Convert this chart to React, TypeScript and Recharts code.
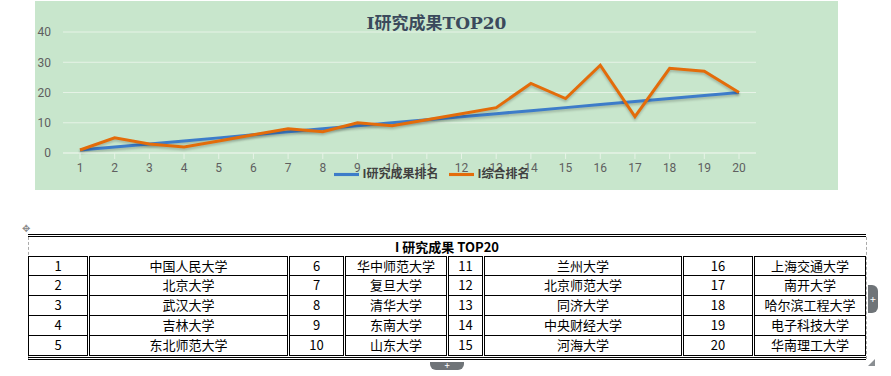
import React from "react";
import { LineChart, Line, XAxis, YAxis, CartesianGrid, Legend } from "recharts";

const ranks = ["1", "2", "3", "4", "5", "6", "7", "8", "9", "10", "11", "12", "13", "14", "15", "16", "17", "18", "19", "20"];
const researchRank = [1, 2, 3, 4, 5, 6, 7, 8, 9, 10, 11, 12, 13, 14, 15, 16, 17, 18, 19, 20];
const overallRank = [1, 5, 3, 2, 4, 6, 8, 7, 10, 9, 11, 13, 15, 23, 18, 29, 12, 28, 27, 20];
const universities = [
  "中国人民大学", "北京大学", "武汉大学", "吉林大学", "东北师范大学",
  "华中师范大学", "复旦大学", "清华大学", "东南大学", "山东大学",
  "兰州大学", "北京师范大学", "同济大学", "中央财经大学", "河海大学",
  "上海交通大学", "南开大学", "哈尔滨工程大学", "电子科技大学", "华南理工大学",
];

const data = ranks.map((r, i) => ({
  name: r,
  research: researchRank[i],
  overall: overallRank[i],
}));

// table column boundaries (number col, name col) x 4 groups
const cols = [
  [28, 60], [89, 199],
  [289, 55], [345, 102],
  [448, 35], [484, 198],
  [683, 70], [754, 112],
];
const rowTops = [256, 276, 296, 316, 336];
const rowH = 20;

const cjk = '"Noto Sans CJK SC", "Noto Sans", sans-serif';

export default function App() {
  const cells: React.ReactNode[] = [];
  for (let g = 0; g < 4; g++) {
    for (let r = 0; r < 5; r++) {
      const idx = g * 5 + r;
      const [nx, nw] = cols[g * 2];
      const [tx, tw] = cols[g * 2 + 1];
      const top = rowTops[r];
      const base: React.CSSProperties = {
        position: "absolute",
        top,
        height: rowH,
        boxSizing: "border-box",
        border: "1px solid #000",
        borderTop: r === 0 ? "1px solid #000" : "none",
        textAlign: "center",
        lineHeight: "18px",
        fontSize: 13,
        color: "#000",
        fontFamily: cjk,
      };
      cells.push(
        <div key={"n" + idx} style={{ ...base, left: nx, width: nw }}>
          {ranks[idx]}
        </div>
      );
      cells.push(
        <div key={"t" + idx} style={{ ...base, left: tx, width: tw }}>
          {universities[idx]}
        </div>
      );
    }
  }

  return (
    <div style={{ position: "absolute", left: 0, top: 0, width: 891, height: 376, background: "#fff", overflow: "hidden" }}>
      <div style={{ position: "absolute", left: 35, top: 1, width: 803, height: 189, background: "#c8e6cc" }}>
        <LineChart
          width={803}
          height={189}
          data={data}
          margin={{ top: 31, right: 82, left: 0, bottom: 0 }}
        >
          <CartesianGrid vertical={false} stroke="#e6f3e6" strokeWidth={1} />
          <XAxis
            dataKey="name"
            height={37}
            padding={{ left: 17, right: 17 }}
            stroke="#e6f3e6"
            tickLine={{ stroke: "#e6f3e6" }}
            tick={{ fill: "#5f5f5f", fontSize: 12, fontFamily: "Roboto, sans-serif" }}
            tickMargin={4}
          />
          <YAxis
            width={28}
            domain={[0, 40]}
            ticks={[0, 10, 20, 30, 40]}
            axisLine={false}
            tickLine={false}
            tick={{ fill: "#5f5f5f", fontSize: 12, fontFamily: "Roboto, sans-serif" }}
            tickMargin={6}
          />
          <Legend
            verticalAlign="middle"
            align="center"
            layout="horizontal"
            iconType="plainline"
            iconSize={25}
            wrapperStyle={{ top: 161, left: 41, fontSize: 12, fontWeight: "bold", fontFamily: cjk }}
            formatter={(v: string) => <span style={{ color: "#404040" }}>{v}</span>}
          />
          <Line
            name="I研究成果排名"
            dataKey="research"
            stroke="#3d7cc9"
            strokeWidth={3}
            dot={false}
            isAnimationActive={false}
            style={{ filter: "drop-shadow(0px 2px 1px rgba(0,0,0,0.2))" }}
          />
          <Line
            name="I综合排名"
            dataKey="overall"
            stroke="#e36c0a"
            strokeWidth={3}
            dot={false}
            isAnimationActive={false}
            style={{ filter: "drop-shadow(0px 2px 1px rgba(0,0,0,0.2))" }}
          />
        </LineChart>
        <div
          style={{
            position: "absolute",
            left: 0,
            width: 803,
            top: 8,
            textAlign: "center",
            fontFamily: '"DejaVu Serif", "Noto Sans CJK SC", serif',
            fontWeight: "bold",
            fontSize: 17,
            color: "#3b4a5c",
            pointerEvents: "none",
          }}
        >
          I研究成果TOP20
        </div>
      </div>

      {/* table */}
      <div style={{ position: "absolute", left: 22, top: 226, width: 6, height: 6, color: "#8a8a8a", fontSize: 10, lineHeight: "6px" }}>✥</div>
      <div style={{ position: "absolute", left: 28, top: 234, width: 838, height: 3, borderTop: "1px solid #000", borderBottom: "1px solid #000", boxSizing: "border-box" }} />
      <div style={{ position: "absolute", left: 28, top: 237, width: 1, height: 122, borderLeft: "1px dashed #aaa" }} />
      <div style={{ position: "absolute", left: 866, top: 237, width: 1, height: 122, borderLeft: "1px dashed #aaa" }} />
      <div
        style={{
          position: "absolute",
          left: 28,
          top: 237,
          width: 838,
          height: 19,
          textAlign: "center",
          fontFamily: cjk,
          fontWeight: "bold",
          fontSize: 13,
          lineHeight: "19px",
          color: "#000",
        }}
      >
        I 研究成果 TOP20
      </div>
      {cells}
      <div style={{ position: "absolute", left: 28, top: 357, width: 838, height: 3, borderTop: "1px solid #000", borderBottom: "1px solid #000", boxSizing: "border-box" }} />
      <div style={{ position: "absolute", left: 868, top: 285, width: 10, height: 28, background: "#6f7478", borderRadius: "0 6px 6px 0", color: "#fff", fontSize: 11, lineHeight: "28px", textAlign: "center", fontWeight: "bold" }}>+</div>
      <div style={{ position: "absolute", left: 430, top: 362, width: 34, height: 8, background: "#6f7478", borderRadius: "0 0 6px 6px", color: "#fff", fontSize: 10, lineHeight: "8px", textAlign: "center", fontWeight: "bold" }}>+</div>
      <div style={{ position: "absolute", left: 868, top: 359, width: 0, height: 0, borderLeft: "7px solid transparent", borderBottom: "7px solid #8a8e92" }} />
    </div>
  );
}
